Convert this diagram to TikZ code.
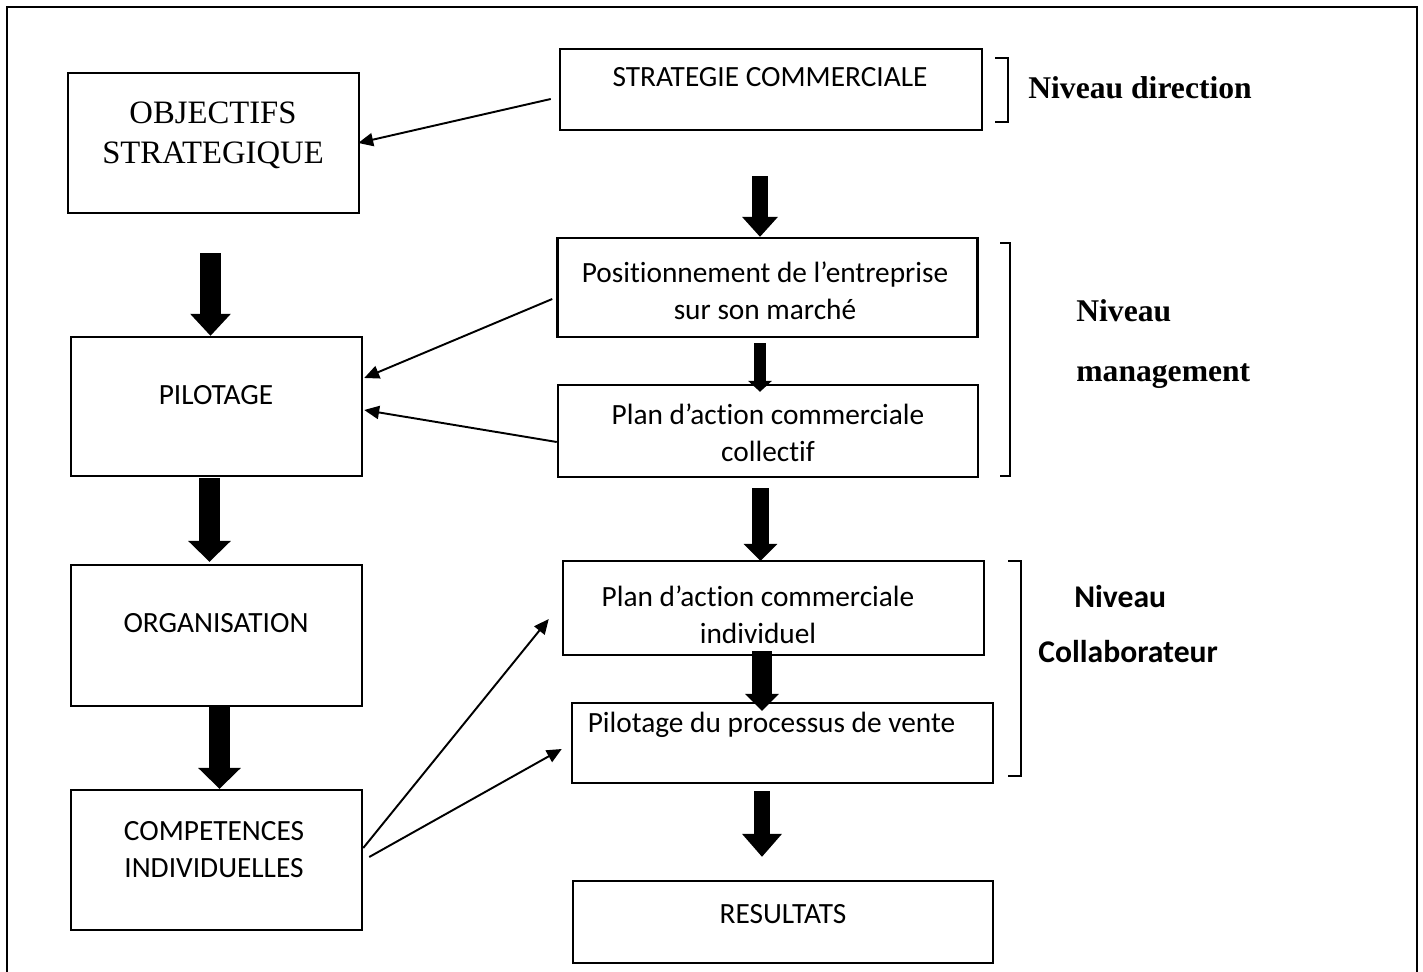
\documentclass[tikz,border=0pt]{standalone}
\usepackage{fontspec}
\setmainfont{Liberation Serif}
\newfontfamily\calibrifont{Carlito}[Ligatures={NoCommon}]
\usetikzlibrary{arrows.meta,calc}
\newcommand{\pxu}{0.02cm}
\begin{document}
\begin{tikzpicture}[x=0.02cm,y=-0.02cm,
  box/.style={draw,line width=1.4pt,inner sep=0pt},
  thin/.style={line width=1.1pt,-{Triangle[length=8.5pt,width=7.5pt]}},
  fat/.style n args={3}{line width=#1,-{Triangle[width=#2,length=#3,line width=0pt]}},
  cal/.style={font=\calibrifont\fontsize{16.7}{20.9}\selectfont,align=center,inner sep=0pt},
  tms/.style={font=\fontsize{18.6}{22.7}\selectfont,align=center,inner sep=0pt},
  lvl/.style={font=\bfseries\fontsize{18}{22}\selectfont,anchor=base west,inner sep=0pt},
  lvlc/.style={font=\calibrifont\bfseries\fontsize{18}{22}\selectfont,anchor=base west,inner sep=0pt},
  brk/.style={line width=0.6pt}]
\useasboundingbox (0,0) rectangle (1423,972);
% outer frame
\draw[line width=1.4pt] (7,972) -- (7,7) -- (1417,7) -- (1417,972);

% boxes
\node[box,minimum width=291*\pxu,minimum height=140*\pxu] (obj) at (213.5,143) {};
\node[box,minimum width=422*\pxu,minimum height=81*\pxu] (strat) at (771,89.5) {};
\node[box,minimum width=420*\pxu,minimum height=99*\pxu] (pos) at (767.5,287.5) {};
\node[box,minimum width=420*\pxu,minimum height=92*\pxu] (col) at (768,431) {};
\node[box,minimum width=421*\pxu,minimum height=94*\pxu] (ind) at (773.5,608) {};
\node[box,minimum width=421*\pxu,minimum height=80*\pxu] (proc) at (782.5,743) {};
\node[box,minimum width=420*\pxu,minimum height=82*\pxu] (res) at (783,922) {};
\node[box,minimum width=291*\pxu,minimum height=139*\pxu] (pil) at (216.5,406.5) {};
\node[box,minimum width=291*\pxu,minimum height=141*\pxu] (org) at (216.5,635.5) {};
\node[box,minimum width=291*\pxu,minimum height=140*\pxu] (comp) at (216.5,860) {};

% texts
\node[tms] (objT) at (213,135.5) {OBJECTIFS\\STRATEGIQUE};
\node[cal,anchor=base] (stratT) at (770,87) {STRATEGIE COMMERCIALE};
\node[cal] (posT) at (765,290.7) {Positionnement de l’entreprise\\sur son marché};
\node[cal] (colT) at (768,433) {Plan d’action commerciale\\collectif};
\node[cal] (indT) at (758,614.7) {Plan d’action commerciale\\individuel};
\node[cal,anchor=base] (procT) at (771.5,732) {Pilotage du processus de vente};
\node[cal,anchor=base] (resT) at (783,923) {RESULTATS};
\node[cal,anchor=base] (pilT) at (216,405) {PILOTAGE};
\node[cal,anchor=base] (orgT) at (216,633) {ORGANISATION};
\node[cal] (compT) at (214,849.5) {COMPETENCES\\INDIVIDUELLES};

% level labels
\node[lvl] (lvdir) at (1028,99) {Niveau direction};
\node[lvl] (lvman1) at (1076,322) {Niveau};
\node[lvl] (lvman2) at (1076,382) {management};
\node[lvlc] (lvcol1) at (1074,608) {Niveau};
\node[lvlc] (lvcol2) at (1038,663) {Collaborateur};

% brackets
\draw[brk] (995,58) -- (1008,58) -- (1008,122) -- (995,122);
\draw[brk] (1000,243) -- (1010,243) -- (1010,476) -- (1000,476);
\draw[brk] (1008,561) -- (1021,561) -- (1021,776) -- (1008,776);

% fat arrows
\draw[fat={11.9pt}{23.2pt}{12.5pt}] ($(obj.south)+(-3,39)$) -- ($(pil.north)+(-6,0)$);
\draw[fat={11.9pt}{24.4pt}{11.9pt}] ($(pil.south)+(-7,1)$) -- ($(org.north)+(-7,-2)$);
\draw[fat={11.9pt}{24.4pt}{11.9pt}] ($(org.south)+(3,0)$) -- ($(comp.north)+(3,0)$);
\draw[fat={9.1pt}{20.4pt}{11.3pt}] ($(strat.south)+(-11,45)$) -- ($(pos.north)+(-7.5,0)$);
\draw[fat={6.8pt}{13.6pt}{6.2pt}] ($(pos.south)+(-7.5,5)$) -- ($(col.north)+(-8,8)$);
\draw[fat={9.6pt}{19.3pt}{9.6pt}] ($(col.south)+(-7.5,10)$) -- ($(ind.north)+(-13,1)$);
\draw[fat={11.3pt}{19.3pt}{9.6pt}] ($(ind.south)+(-11.5,-5)$) -- ($(proc.north)+(-20.5,9)$);
\draw[fat={9.1pt}{22.7pt}{13pt}] ($(proc.south)+(-20.5,7)$) -- ($(res.north)+(-21,-23)$);

% thin arrows
\draw[thin] ($(strat.west)+(-8,9.5)$) -- ($(obj.east)+(-2,0)$);
\draw[thin] ($(pos.west)+(-4,11.5)$) -- ($(pil.east)+(1,-28.5)$);
\draw[thin] ($(col.west)+(0,11)$) -- ($(pil.east)+(1,3.5)$);
\draw[thin] ($(comp.east)+(0,-12)$) -- ($(ind.west)+(-13,11)$);
\draw[thin] ($(comp.east)+(6,-3)$) -- ($(proc.west)+(-9,6)$);
\end{tikzpicture}
\end{document}
